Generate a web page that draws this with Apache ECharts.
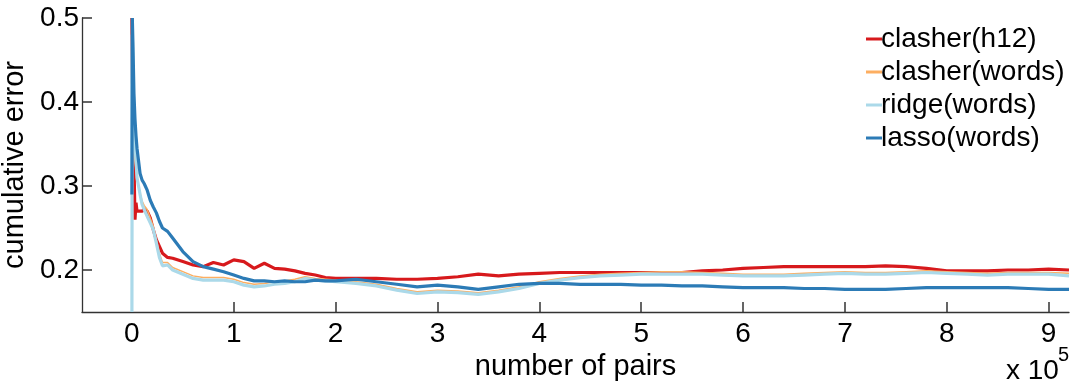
<!DOCTYPE html>
<html>
<head>
<meta charset="utf-8">
<script src="https://cdn.jsdelivr.net/npm/echarts@6/dist/echarts.min.js"></script>
<style>
  html, body { margin: 0; padding: 0; background: #fff; }
  #chart { width: 1072px; height: 381px; }
</style>
</head>
<body>
<div id="chart"></div>
<script>
// number of pairs, in units of 10^5
const pairs = [0, 0.004, 0.01, 0.02, 0.03, 0.04, 0.05, 0.065, 0.08, 0.1,
  0.12, 0.15, 0.18, 0.21, 0.24, 0.27, 0.3, 0.35, 0.4, 0.5,
  0.6, 0.7, 0.8, 0.9, 1.0, 1.1, 1.2, 1.3, 1.4, 1.5,
  1.6, 1.7, 1.8, 1.9, 2.0, 2.2, 2.4, 2.6, 2.8, 3.0,
  3.2, 3.4, 3.6, 3.8, 4.0, 4.2, 4.4, 4.6, 4.8, 5.0,
  5.2, 5.4, 5.6, 5.8, 6.0, 6.2, 6.4, 6.6, 6.8, 7.0,
  7.2, 7.4, 7.6, 7.8, 8.0, 8.2, 8.4, 8.6, 8.8, 9.0,
  9.2];

const clasherH12 = [0.5, 0.45, 0.38, 0.33, 0.26, 0.28, 0.27, 0.272, 0.27, 0.27,
  0.272, 0.27, 0.262, 0.248, 0.236, 0.228, 0.22, 0.215, 0.214, 0.21,
  0.206, 0.204, 0.209, 0.206, 0.212, 0.21, 0.202, 0.208, 0.202, 0.201,
  0.199, 0.196, 0.194, 0.191, 0.19, 0.19, 0.19, 0.189, 0.189, 0.19,
  0.192, 0.195, 0.193, 0.195, 0.196, 0.197, 0.197, 0.197, 0.197, 0.197,
  0.197, 0.197, 0.199, 0.2, 0.202, 0.203, 0.204, 0.204, 0.204, 0.204,
  0.204, 0.205, 0.204, 0.202, 0.199, 0.199, 0.199, 0.2, 0.2, 0.201,
  0.2];

const clasherWords = [0.35, 0.37, 0.36, 0.34, 0.33, 0.32, 0.31, 0.3, 0.292, 0.282,
  0.277, 0.272, 0.262, 0.252, 0.236, 0.22, 0.209, 0.209, 0.203, 0.198,
  0.193, 0.191, 0.191, 0.191, 0.189, 0.185, 0.183, 0.184, 0.186, 0.187,
  0.189, 0.192, 0.19, 0.189, 0.188, 0.186, 0.183, 0.178, 0.174, 0.176,
  0.175, 0.173, 0.176, 0.18, 0.186, 0.19, 0.193, 0.195, 0.196, 0.197,
  0.198, 0.198, 0.197, 0.196, 0.195, 0.195, 0.195, 0.196, 0.197, 0.198,
  0.197, 0.197, 0.198, 0.199, 0.198, 0.197, 0.196, 0.197, 0.197, 0.197,
  0.196];

const ridgeWords = [0.15, 0.48, 0.44, 0.38, 0.35, 0.33, 0.31, 0.3, 0.29, 0.278,
  0.272, 0.264, 0.256, 0.248, 0.232, 0.215, 0.205, 0.206, 0.2, 0.195,
  0.19, 0.188, 0.188, 0.188, 0.186, 0.182, 0.18, 0.181, 0.183, 0.184,
  0.186, 0.19, 0.188, 0.187, 0.186, 0.184, 0.181, 0.176, 0.172, 0.174,
  0.173, 0.171, 0.174, 0.178, 0.184, 0.188, 0.191, 0.193, 0.194, 0.195,
  0.195, 0.195, 0.195, 0.194, 0.193, 0.193, 0.193, 0.194, 0.195, 0.196,
  0.195, 0.195, 0.196, 0.197, 0.196, 0.195, 0.194, 0.195, 0.195, 0.195,
  0.193];

const lassoWords = [0.29, 0.5, 0.47, 0.41, 0.38, 0.36, 0.345, 0.33, 0.315, 0.307,
  0.303, 0.295, 0.283, 0.275, 0.268, 0.258, 0.25, 0.246, 0.238, 0.222,
  0.21, 0.204, 0.201, 0.198, 0.194, 0.19, 0.187, 0.187, 0.186, 0.187,
  0.186, 0.186, 0.188, 0.187, 0.187, 0.189, 0.186, 0.183, 0.18, 0.182,
  0.18, 0.177, 0.18, 0.183, 0.184, 0.184, 0.183, 0.183, 0.183, 0.182,
  0.182, 0.181, 0.181, 0.18, 0.179, 0.179, 0.179, 0.178, 0.178, 0.177,
  0.177, 0.177, 0.178, 0.179, 0.179, 0.179, 0.179, 0.179, 0.178, 0.177,
  0.177];

const xTicks = [0, 1, 2, 3, 4, 5, 6, 7, 8, 9];
const yTicks = [0.2, 0.3, 0.4, 0.5];

const names = ['clasher(h12)', 'clasher(words)', 'ridge(words)', 'lasso(words)'];
const colors = ['#d7191c', '#fdae61', '#abd9e9', '#2c7bb6'];
const widths = [3.2, 1.5, 3.2, 3.2];
const values = [clasherH12, clasherWords, ridgeWords, lassoWords];

const font = 'Liberation Sans, Arial, sans-serif';
const chart = echarts.init(document.getElementById('chart'));

chart.setOption({
  animation: false,
  grid: { left: 82, right: 3, top: 18, bottom: 69, outerBoundsMode: 'none' },
  legend: {
    orient: 'vertical',
    left: 861,
    top: 20,
    itemWidth: 16,
    itemHeight: 3,
    itemGap: 5,
    icon: 'rect',
    textStyle: { fontSize: 28, color: '#000', fontFamily: font, padding: [0, 0, 0, -6] },
    data: names
  },
  xAxis: [{
    type: 'value',
    min: -0.49,
    max: 9.2,
    splitLine: { show: false },
    axisLine: { onZero: false, lineStyle: { color: '#333', width: 1.3 } },
    axisTick: { show: true, inside: true, length: 10, customValues: xTicks, lineStyle: { color: '#333', width: 1.5 } },
    axisLabel: { customValues: xTicks, fontSize: 28, color: '#000', margin: 8, fontFamily: font },
    name: 'number of pairs',
    nameLocation: 'middle',
    nameGap: 24,
    nameTextStyle: { fontSize: 29, color: '#000', fontFamily: font }
  }, {
    // tick-only twin of the x axis
    type: 'value',
    position: 'bottom',
    min: -0.49,
    max: 9.2,
    splitLine: { show: false },
    axisLine: { show: false, onZero: false },
    axisTick: { show: true, inside: true, length: 10, customValues: xTicks, lineStyle: { color: '#333', width: 1.5 } },
    axisLabel: { customValues: xTicks, color: 'rgba(0,0,0,0)' }
  }],
  yAxis: [{
    type: 'value',
    min: 0.15,
    max: 0.5,
    splitLine: { show: false },
    axisLine: { show: true, onZero: false, lineStyle: { color: '#333', width: 1.3 } },
    axisTick: { show: true, inside: true, length: 10, customValues: yTicks, lineStyle: { color: '#333', width: 1.5 } },
    axisLabel: { customValues: yTicks, fontSize: 28, color: '#000', margin: 3, padding: [6, 0, 0, 0], fontFamily: font },
    name: 'cumulative error',
    nameLocation: 'middle',
    nameGap: 31,
    nameTextStyle: { fontSize: 29, color: '#000', fontFamily: font }
  }, {
    // tick-only twin of the y axis
    type: 'value',
    position: 'left',
    min: 0.15,
    max: 0.5,
    splitLine: { show: false },
    axisLine: { show: false, onZero: false },
    axisTick: { show: true, inside: true, length: 10, customValues: yTicks, lineStyle: { color: '#333', width: 1.5 } },
    axisLabel: { customValues: yTicks, color: 'rgba(0,0,0,0)' }
  }],
  graphic: [
    { type: 'text', left: 1006, top: 357, style: { text: 'x 10', fontSize: 28, fill: '#000', fontFamily: font } },
    { type: 'text', left: 1058, top: 345, style: { text: '5', fontSize: 20, fill: '#000', fontFamily: font } }
  ],
  series: names.map((n, i) => ({
    name: n,
    type: 'line',
    showSymbol: false,
    symbol: 'none',
    color: colors[i],
    lineStyle: { width: widths[i], color: colors[i] },
    data: pairs.map((x, j) => [x, values[i][j]])
  }))
});
</script>
</body>
</html>
